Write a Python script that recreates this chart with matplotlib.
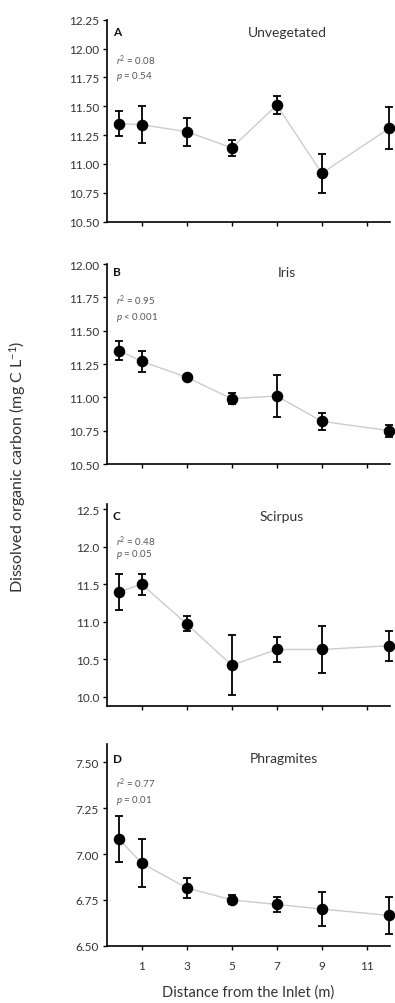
import matplotlib.pyplot as plt

# distances from inlet (m)
dist = [0, 1, 3, 5, 7, 9, 12]

unveg = [11.35, 11.34, 11.28, 11.14, 11.51, 10.92, 11.31]
unveg_err = [0.11, 0.16, 0.12, 0.07, 0.08, 0.17, 0.18]

iris = [11.35, 11.27, 11.15, 10.99, 11.01, 10.82, 10.75]
iris_err = [0.07, 0.08, 0.02, 0.04, 0.16, 0.065, 0.045]

scirpus = [11.40, 11.50, 10.97, 10.42, 10.63, 10.63, 10.68]
scirpus_err = [0.24, 0.14, 0.10, 0.40, 0.17, 0.31, 0.20]

phrag = [7.08, 6.95, 6.815, 6.75, 6.725, 6.70, 6.665]
phrag_err = [0.125, 0.13, 0.055, 0.025, 0.04, 0.095, 0.10]

panels = [
    ('A', 'Unvegetated', unveg, unveg_err, r'$r^2$ = 0.08', r'$p$ = 0.54',
     (10.5, 12.25), [10.5, 10.75, 11.0, 11.25, 11.5, 11.75, 12.0, 12.25], '%.2f'),
    ('B', 'Iris', iris, iris_err, r'$r^2$ = 0.95', r'$p$ < 0.001',
     (10.5, 12.0), [10.5, 10.75, 11.0, 11.25, 11.5, 11.75, 12.0], '%.2f'),
    ('C', 'Scirpus', scirpus, scirpus_err, r'$r^2$ = 0.48', r'$p$ = 0.05',
     (9.88, 12.57), [10.0, 10.5, 11.0, 11.5, 12.0, 12.5], '%.1f'),
    ('D', 'Phragmites', phrag, phrag_err, r'$r^2$ = 0.77', r'$p$ = 0.01',
     (6.5, 7.6), [6.5, 6.75, 7.0, 7.25, 7.5], '%.2f'),
]

# pixel extents (top, bottom) of each panel + text heights (axes fraction)
boxes = [(20.7, 222.7), (265, 465), (505, 706.7), (745, 946.7)]
lab_y = [0.94, 0.96, 0.942, 0.93]
r2_y = [0.80, 0.82, 0.82, 0.81]
p_y = [0.726, 0.74, 0.757, 0.724]
name_x = [0.636, 0.636, 0.617, 0.623]

W, H = 395, 1004
plt.rcParams['font.family'] = ['Lato', 'DejaVu Sans']
plt.rcParams['mathtext.fontset'] = 'custom'
plt.rcParams['mathtext.it'] = 'Lato:italic'
plt.rcParams['mathtext.rm'] = 'Lato'
fig = plt.figure(figsize=(W / 100, H / 100), dpi=100)
txt = '#333333'

for i, ((lab, name, y, e, r2, pv, ylim, yt, fmt), (top, bot)) in enumerate(zip(panels, boxes)):
    ax = fig.add_axes([107.3 / W, 1 - bot / H, (390 - 107.3) / W, (bot - top) / H])
    ax.plot(dist, y, color='#cccccc', lw=1.0, zorder=1)
    ax.errorbar(dist, y, yerr=e, fmt='o', color='black', ms=7.3, capsize=3,
                elinewidth=1.3, capthick=1.3, zorder=3, clip_on=False)
    ax.set_xlim(-0.53, 12.03)
    ax.set_ylim(*ylim)
    ax.set_yticks(yt)
    ax.set_yticklabels([fmt % v for v in yt])
    ax.set_xticks([1, 3, 5, 7, 9, 11])
    ax.spines['top'].set_visible(False)
    ax.spines['right'].set_visible(False)
    for s in ('left', 'bottom'):
        ax.spines[s].set_linewidth(1.2)
    ax.tick_params(direction='out', length=3, width=1, labelsize=8.5,
                   labelcolor=txt)
    ax.tick_params(axis='y', pad=3)
    ax.tick_params(axis='x', pad=7)
    if lab != 'D':
        ax.set_xticklabels([])
    ax.text(0.02, lab_y[i], lab, transform=ax.transAxes, fontsize=8.5,
            fontweight='bold', va='center', ha='left', color='#111111')
    ax.text(name_x[i], lab_y[i], name, transform=ax.transAxes, fontsize=10,
            va='center', ha='center', color=txt)
    ax.text(0.03, r2_y[i], r2, transform=ax.transAxes, fontsize=7, va='center',
            color='#555555')
    ax.text(0.03, p_y[i], pv, transform=ax.transAxes, fontsize=7, va='center',
            color='#555555')

fig.text(248 / W, 1 - 993 / H, 'Distance from the Inlet (m)', fontsize=10.5,
         color=txt, ha='center', va='center')
fig.text(18 / W, 1 - 467 / H, r'Dissolved organic carbon (mg C L$^{-1}$)',
         rotation=90, va='center', ha='center', fontsize=11.5, color=txt)

fig.savefig('out.png', dpi=100)
